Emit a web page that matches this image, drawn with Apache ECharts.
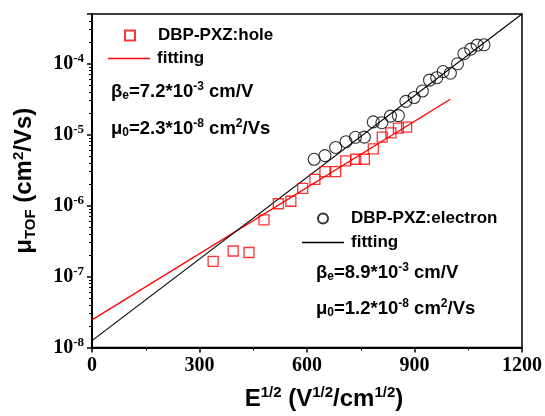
<!DOCTYPE html>
<html>
<head>
<meta charset="utf-8">
<script src="https://cdn.jsdelivr.net/npm/echarts@6/dist/echarts.min.js"></script>
<style>
  html, body { margin: 0; padding: 0; background: #fff; }
  #chart { width: 545px; height: 416px; }
</style>
</head>
<body>
<div id="chart"></div>
<script>
// hole mobility (red squares)
const holeE = [338, 394, 438, 480, 520, 555, 588, 622, 650, 680, 708, 736, 760, 785, 810, 834, 855, 878];
const holeMu = [1.63e-7, 2.29e-7, 2.18e-7, 6.3e-7, 1.06e-6, 1.15e-6, 1.75e-6, 2.34e-6, 3.0e-6, 3.0e-6,
                4.27e-6, 4.49e-6, 4.49e-6, 6.3e-6, 9.2e-6, 1.06e-5, 1.23e-5, 1.27e-5];
// electron mobility (black circles)
const elecE = [620, 650, 680, 709, 735, 760, 785, 809, 833, 855, 876, 899, 922, 942, 962, 980, 1000, 1020,
               1038, 1057, 1075, 1094];
const elecMu = [4.49e-6, 5.06e-6, 6.58e-6, 7.93e-6, 9.16e-6, 9.2e-6, 1.51e-5, 1.47e-5, 1.82e-5, 1.85e-5,
                2.94e-5, 3.33e-5, 4.11e-5, 5.85e-5, 6.32e-5, 7.73e-5, 7.33e-5, 9.93e-5, 1.38e-4, 1.60e-4,
                1.82e-4, 1.84e-4];
// fitted lines (end points)
const holeFitE = [0, 1000];
const holeFitMu = [2.45e-8, 3.15e-5];
const elecFitE = [0, 1200];
const elecFitMu = [1.25e-8, 5.0e-4];

const serif = '"Liberation Serif", "Times New Roman", serif';
const sans = '"Liberation Sans", Arial, sans-serif';

const pairs = (xs, ys) => xs.map((x, i) => [x, ys[i]]);

const chart = echarts.init(document.getElementById('chart'));

const legendText = { fontFamily: sans, fontWeight: 'bold', fontSize: 17, color: '#000' };

// legend for a marker series: small icon, text pushed right
function markerLegend(name, icon, left, top) {
    return {
        selectedMode: false, left: left, top: top, padding: 0,
        itemWidth: 10, itemHeight: 10,
        data: [{ name: name, icon: icon }],
        textStyle: Object.assign({ padding: [0, 0, 0, 18] }, legendText)
    };
}
// legend for a fit line: plain line icon, label "fitting"
function lineLegend(name, left, top) {
    return {
        selectedMode: false, left: left, top: top, padding: 0,
        itemWidth: 42, itemHeight: 1.4,
        data: [{ name: name, icon: 'rect' }],
        formatter: () => 'fitting',
        textStyle: Object.assign({ padding: [0, 0, 0, 2] }, legendText)
    };
}

function noteText(text, left, top) {
    const sub = { fontFamily: sans, fontWeight: 'bold', fontSize: 12, fill: '#000', verticalAlign: 'top', padding: [9, 0, 0, 0] };
    const sup = { fontFamily: sans, fontWeight: 'bold', fontSize: 12, fill: '#000', verticalAlign: 'bottom', padding: [0, 0, 9, 0] };
    return {
        type: 'text', left: left, top: top,
        style: {
            text: text,
            rich: { n: { fontFamily: sans, fontWeight: 'bold', fontSize: 18.5, fill: '#000' }, sub: sub, sup: sup }
        }
    };
}

chart.setOption({
    animation: false,
    backgroundColor: '#fff',
    grid: {
        left: 92, right: 22, top: 14, bottom: 65,
        show: true, borderColor: '#000', borderWidth: 1.5, backgroundColor: 'transparent'
    },
    legend: [
        markerLegend('DBP-PXZ:hole', 'rect', 124, 27),
        lineLegend('hole fit', 108, 50),
        markerLegend('DBP-PXZ:electron', 'circle', 317, 210),
        lineLegend('electron fit', 302, 234)
    ],
    xAxis: {
        type: 'value', min: 0, max: 1200, interval: 300,
        name: 'E{sup|1/2} (V{sup|1/2}/cm{sup|1/2})',
        nameLocation: 'middle', nameGap: 38,
        nameTextStyle: {
            fontFamily: sans, fontWeight: 'bold', fontSize: 24, color: '#000', padding: [0, 0, 0, 34],
            rich: { sup: { fontFamily: sans, fontWeight: 'bold', fontSize: 15, verticalAlign: 'bottom', padding: [0, 0, 12, 0] } }
        },
        axisLine: { lineStyle: { color: '#000', width: 2 } },
        axisTick: { inside: false, length: 5, lineStyle: { color: '#000', width: 1.5 } },
        minorTick: { show: true, splitNumber: 2, length: 3, lineStyle: { color: '#000', width: 1 } },
        axisLabel: { fontFamily: serif, fontWeight: 'bold', fontSize: 20, color: '#000', margin: 8, formatter: v => String(v) },
        splitLine: { show: false }
    },
    yAxis: {
        type: 'log', logBase: 10, min: 1e-8, max: 5e-4,
        name: '{n|μ}{sub|TOF}{n| (cm}{sup|2}{n|/Vs)}',
        nameLocation: 'middle', nameGap: 54, nameRotate: 90,
        nameTextStyle: {
            rich: {
                n: { fontFamily: sans, fontWeight: 'bold', fontSize: 24, color: '#000' },
                sub: { fontFamily: sans, fontWeight: 'bold', fontSize: 15, color: '#000', verticalAlign: 'top', padding: [12, 0, 0, 0] },
                sup: { fontFamily: sans, fontWeight: 'bold', fontSize: 15, color: '#000', verticalAlign: 'bottom', padding: [0, 0, 12, 0] }
            }
        },
        axisLine: { lineStyle: { color: '#000', width: 2 } },
        axisTick: { inside: false, length: 5, lineStyle: { color: '#000', width: 1.5 } },
        minorTick: { show: true, splitNumber: 9, length: 3, lineStyle: { color: '#000', width: 1 } },
        axisLabel: {
            margin: 8,
            formatter: v => {
                const e = Math.log10(v);
                const r = Math.round(e);
                if (Math.abs(e - r) > 1e-6) return '';
                return '{b|10}{s|' + r + '}';
            },
            rich: {
                b: { fontFamily: serif, fontWeight: 'bold', fontSize: 20, color: '#000' },
                s: { fontFamily: serif, fontWeight: 'bold', fontSize: 13, color: '#000', verticalAlign: 'bottom', padding: [0, 0, 10, 0] }
            }
        },
        splitLine: { show: false }
    },
    graphic: [
        noteText('{n|β}{sub|e}{n|=7.2*10}{sup|-3}{n| cm/V}', 111, 81),
        noteText('{n|μ}{sub|0}{n|=2.3*10}{sup|-8}{n| cm}{sup|2}{n|/Vs}', 111, 118),
        noteText('{n|β}{sub|e}{n|=8.9*10}{sup|-3}{n| cm/V}', 316, 262),
        noteText('{n|μ}{sub|0}{n|=1.2*10}{sup|-8}{n| cm}{sup|2}{n|/Vs}', 316, 298)
    ],
    series: [
        {
            name: 'hole fit', type: 'line', data: pairs(holeFitE, holeFitMu),
            symbol: 'none', lineStyle: { color: '#ff0000', width: 1.3 }, itemStyle: { color: '#ff0000' }, z: 2
        },
        {
            name: 'electron fit', type: 'line', data: pairs(elecFitE, elecFitMu),
            symbol: 'none', lineStyle: { color: '#000', width: 1.1 }, itemStyle: { color: '#000' }, z: 2
        },
        {
            name: 'DBP-PXZ:hole', type: 'scatter', data: pairs(holeE, holeMu),
            symbol: 'rect', symbolSize: 10,
            itemStyle: { color: 'rgba(255,255,255,0)', borderColor: '#ff0000', borderWidth: 1.3 }, z: 3
        },
        {
            name: 'DBP-PXZ:electron', type: 'scatter', data: pairs(elecE, elecMu),
            symbol: 'circle', symbolSize: 12,
            itemStyle: { color: 'rgba(255,255,255,0)', borderColor: '#000', borderWidth: 1.1 }, z: 3
        }
    ]
});
</script>
</body>
</html>
